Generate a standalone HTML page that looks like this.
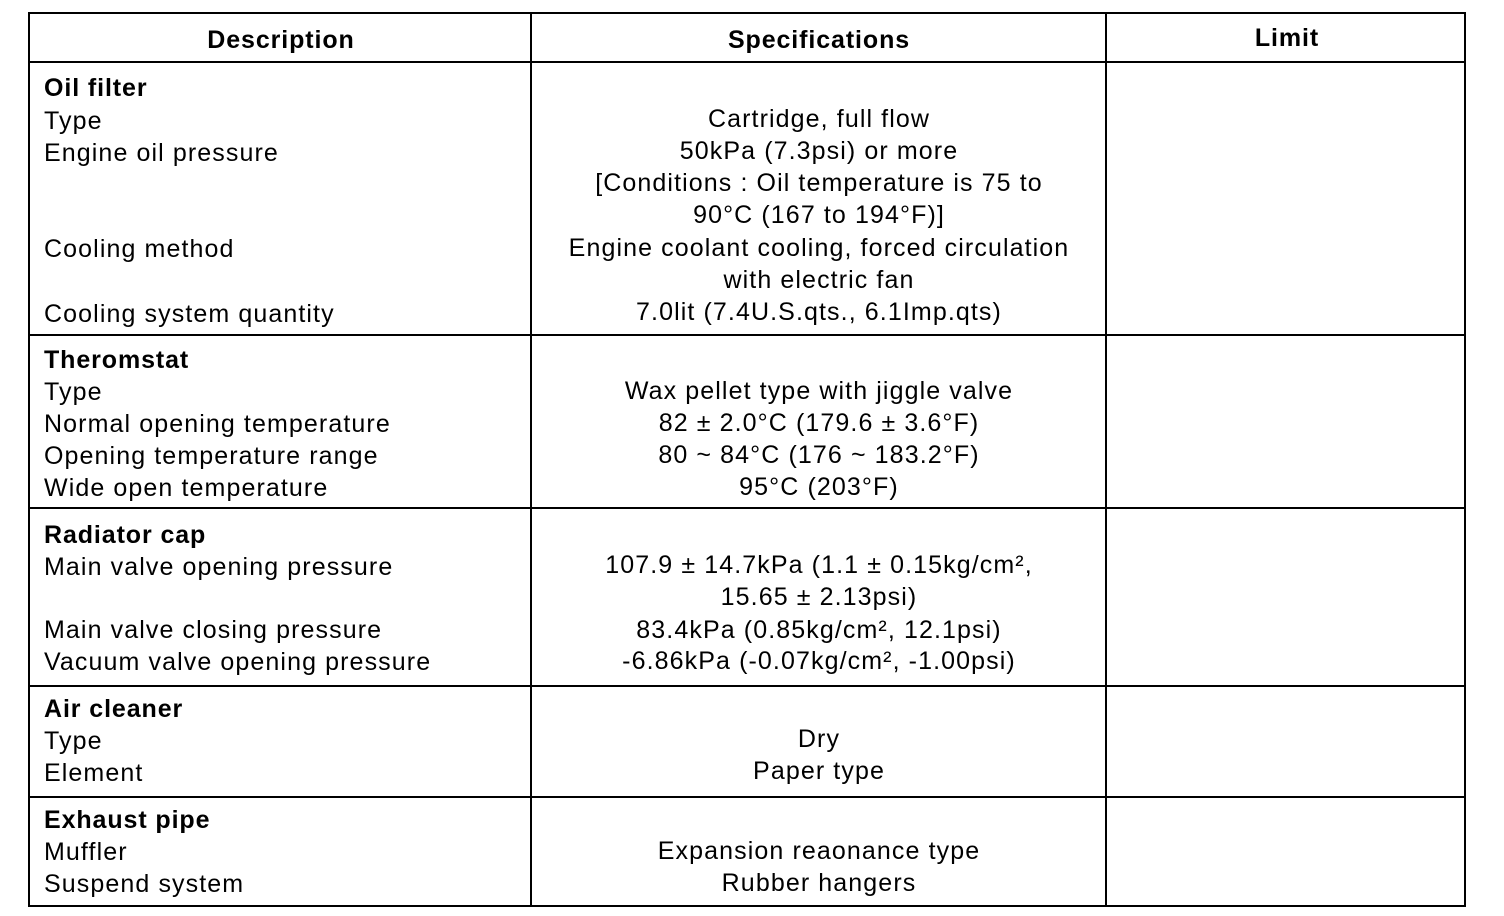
<!DOCTYPE html>
<html><head><meta charset="utf-8"><style>
body{margin:0;background:#fff;width:1504px;height:916px;position:relative;overflow:hidden;font-family:"Liberation Sans",Arial,sans-serif;color:#000}
.l{position:absolute;background:#000}
.t{position:absolute;font-size:25px;letter-spacing:1.1px;white-space:nowrap;line-height:26px}
.c{transform:translateX(-50%)}
b{font-weight:bold;letter-spacing:0.9px}
</style></head><body>
<div class="l" style="left:28px;top:12px;width:1438px;height:2px"></div>
<div class="l" style="left:28px;top:905px;width:1438px;height:2px"></div>
<div class="l" style="left:28px;top:12px;width:2px;height:895px"></div>
<div class="l" style="left:1464px;top:12px;width:2px;height:895px"></div>
<div class="l" style="left:530px;top:12px;width:2px;height:895px"></div>
<div class="l" style="left:1105px;top:12px;width:2px;height:895px"></div>
<div class="l" style="left:28px;top:61px;width:1438px;height:2px"></div>
<div class="l" style="left:28px;top:334px;width:1438px;height:2px"></div>
<div class="l" style="left:28px;top:507px;width:1438px;height:2px"></div>
<div class="l" style="left:28px;top:685px;width:1438px;height:2px"></div>
<div class="l" style="left:28px;top:796px;width:1438px;height:2px"></div>

<div class="t c" style="left:281px;top:27px"><b>Description</b></div>
<div class="t c" style="left:819px;top:27px"><b>Specifications</b></div>
<div class="t c" style="left:1287px;top:25px"><b>Limit</b></div>

<div class="t" style="left:44px;top:75px"><b>Oil filter</b></div>
<div class="t" style="left:44px;top:108px">Type</div>
<div class="t" style="left:44px;top:140px">Engine oil pressure</div>
<div class="t" style="left:44px;top:236px">Cooling method</div>
<div class="t" style="left:44px;top:301px">Cooling system quantity</div>
<div class="t c" style="left:819px;top:106px">Cartridge, full flow</div>
<div class="t c" style="left:819px;top:138px">50kPa (7.3psi) or more</div>
<div class="t c" style="left:819px;top:170px">[Conditions : Oil temperature is 75 to</div>
<div class="t c" style="left:819px;top:202px">90°C (167 to 194°F)]</div>
<div class="t c" style="left:819px;top:235px">Engine coolant cooling, forced circulation</div>
<div class="t c" style="left:819px;top:267px">with electric fan</div>
<div class="t c" style="left:819px;top:299px">7.0lit (7.4U.S.qts., 6.1Imp.qts)</div>

<div class="t" style="left:44px;top:347px"><b>Theromstat</b></div>
<div class="t" style="left:44px;top:379px">Type</div>
<div class="t" style="left:44px;top:411px">Normal opening temperature</div>
<div class="t" style="left:44px;top:443px">Opening temperature range</div>
<div class="t" style="left:44px;top:475px">Wide open temperature</div>
<div class="t c" style="left:819px;top:378px">Wax pellet type with jiggle valve</div>
<div class="t c" style="left:819px;top:410px">82 ± 2.0°C (179.6 ± 3.6°F)</div>
<div class="t c" style="left:819px;top:442px">80 ~ 84°C (176 ~ 183.2°F)</div>
<div class="t c" style="left:819px;top:474px">95°C (203°F)</div>

<div class="t" style="left:44px;top:522px"><b>Radiator cap</b></div>
<div class="t" style="left:44px;top:554px">Main valve opening pressure</div>
<div class="t" style="left:44px;top:617px">Main valve closing pressure</div>
<div class="t" style="left:44px;top:649px">Vacuum valve opening pressure</div>
<div class="t c" style="left:819px;top:552px">107.9 ± 14.7kPa (1.1 ± 0.15kg/cm², </div>
<div class="t c" style="left:819px;top:584px">15.65 ± 2.13psi)</div>
<div class="t c" style="left:819px;top:617px">83.4kPa (0.85kg/cm², 12.1psi)</div>
<div class="t c" style="left:819px;top:648px">-6.86kPa (-0.07kg/cm², -1.00psi)</div>

<div class="t" style="left:44px;top:696px"><b>Air cleaner</b></div>
<div class="t" style="left:44px;top:728px">Type</div>
<div class="t" style="left:44px;top:760px">Element</div>
<div class="t c" style="left:819px;top:726px">Dry</div>
<div class="t c" style="left:819px;top:758px">Paper type</div>

<div class="t" style="left:44px;top:807px"><b>Exhaust pipe</b></div>
<div class="t" style="left:44px;top:839px">Muffler</div>
<div class="t" style="left:44px;top:871px">Suspend system</div>
<div class="t c" style="left:819px;top:838px">Expansion reaonance type</div>
<div class="t c" style="left:819px;top:870px">Rubber hangers</div>
</body></html>
